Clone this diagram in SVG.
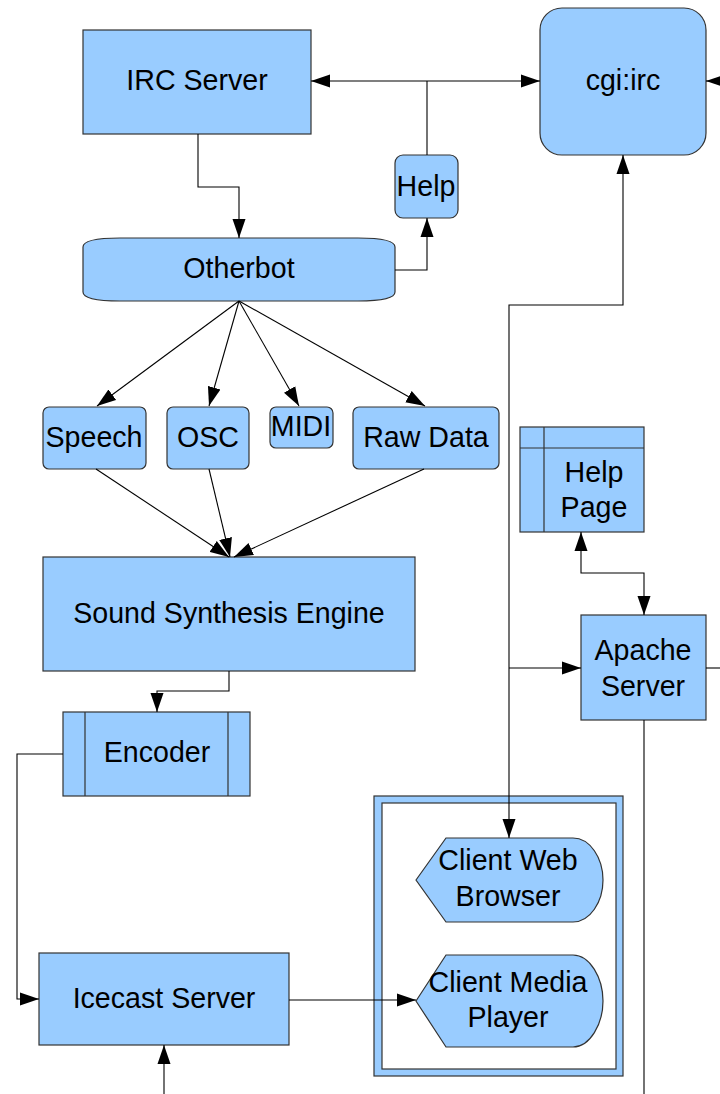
<svg xmlns="http://www.w3.org/2000/svg" width="720" height="1094" viewBox="0 0 720 1094">
<style>
.n{fill:#99ccff;stroke:#333;stroke-width:1.2}
.t{font-family:"Liberation Sans",Arial,sans-serif;font-size:28.6px;fill:#000;text-anchor:middle}
.c{fill:none;stroke:#000;stroke-width:1.1}
.a{marker-end:url(#ah)}
.b{marker-start:url(#ah);marker-end:url(#ah)}
</style>
<defs>
<marker id="ah" markerUnits="userSpaceOnUse" markerWidth="20" markerHeight="14" refX="19" refY="7" orient="auto-start-reverse">
<path d="M0,0.5 L19,7 L0,13.5 z" fill="#000"/>
</marker>
</defs>
<rect width="720" height="1094" fill="#fff"/>
<g id="irc-server"><rect class="n" x="83" y="30" width="228" height="104"/><text class="t" x="197" y="90">IRC Server</text></g>
<g id="cgi-irc"><rect class="n" x="540" y="8" width="166" height="147" rx="22"/><text class="t" x="623" y="90">cgi:irc</text></g>
<g id="help"><rect class="n" x="395" y="155" width="63" height="63" rx="8"/><text class="t" x="426" y="196">Help</text></g>
<g id="otherbot"><path class="n" d="M83,247 Q83,238 120,238 L358,238 Q395,238 395,247 L395,292 Q395,301 358,301 L120,301 Q83,301 83,292 Z"/><text class="t" x="239" y="278">Otherbot</text></g>
<g id="speech"><rect class="n" x="43" y="407" width="103" height="62" rx="6"/><text class="t" x="94" y="447">Speech</text></g>
<g id="osc"><rect class="n" x="167" y="407" width="82" height="62" rx="6"/><text class="t" x="208" y="447">OSC</text></g>
<g id="midi"><rect class="n" x="270" y="407" width="63" height="41" rx="6"/><text class="t" x="301" y="436">MIDI</text></g>
<g id="raw-data"><rect class="n" x="353" y="407" width="146" height="62" rx="6"/><text class="t" x="426" y="447">Raw Data</text></g>
<g id="sound-synthesis-engine"><rect class="n" x="43" y="557" width="372" height="114"/><text class="t" x="229" y="623">Sound Synthesis Engine</text></g>
<g id="encoder"><rect class="n" x="63" y="712" width="187" height="84"/><path class="n" d="M85,712 V796 M228,712 V796"/><text class="t" x="157" y="762">Encoder</text></g>
<g id="icecast-server"><rect class="n" x="39" y="953" width="250" height="92"/><text class="t" x="164" y="1008">Icecast Server</text></g>
<g id="help-page"><rect class="n" x="520" y="427" width="124" height="105"/><path class="n" d="M544,427 V532 M520,448 H644"/><text class="t" x="594" y="482">Help</text><text class="t" x="594" y="517">Page</text></g>
<g id="apache-server"><rect class="n" x="581" y="615" width="125" height="105"/><text class="t" x="643" y="660">Apache</text><text class="t" x="643" y="696">Server</text></g>
<g id="clients-frame"><rect class="n" x="374" y="796" width="249" height="280"/><rect x="382" y="803" width="234" height="266" fill="#fff" stroke="#333" stroke-width="1.2"/></g>
<g id="client-web-browser"><path class="n" d="M416,880 L446,838 L573,838 C590,838 603,858 603,880 C603,902 590,922 573,922 L446,922 Z"/><text class="t" x="508" y="870">Client Web</text><text class="t" x="508" y="906">Browser</text></g>
<g id="client-media-player"><path class="n" d="M416,1001 L446,955 L573,955 C590,955 603,978 603,1001 C603,1024 590,1047 573,1047 L446,1047 Z"/><text class="t" x="508" y="992">Client Media</text><text class="t" x="508" y="1027">Player</text></g>
<g id="connectors">
<path class="c b" d="M311,81 L540,81"/>
<path class="c" d="M427,81 L427,155"/>
<path class="c a" d="M720,81 L706,81"/>
<path class="c a" d="M198,134 L198,187 L239,187 L239,238"/>
<path class="c a" d="M395,270 L427,270 L427,218"/>
<path class="c b" d="M623,155 L623,305 L509,305 L509,838"/>
<path class="c a" d="M509,668 L581,668"/>
<path class="c b" d="M581,532 L581,573 L644,573 L644,615"/>
<path class="c" d="M706,668 L720,668"/>
<path class="c" d="M644,720 L644,1094"/>
<path class="c a" d="M239,301 L97,406"/>
<path class="c a" d="M239,301 L209,406"/>
<path class="c a" d="M239,301 L299,406"/>
<path class="c a" d="M239,301 L425,406"/>
<path class="c a" d="M96,469 L229,557"/>
<path class="c a" d="M209,469 L230,557"/>
<path class="c a" d="M424,469 L234,557"/>
<path class="c a" d="M229,671 L229,691 L157,691 L157,712"/>
<path class="c a" d="M63,754 L17,754 L17,999 L39,999"/>
<path class="c a" d="M164,1094 L164,1045"/>
<path class="c a" d="M289,1000 L416,1000"/>
</g>
</svg>
